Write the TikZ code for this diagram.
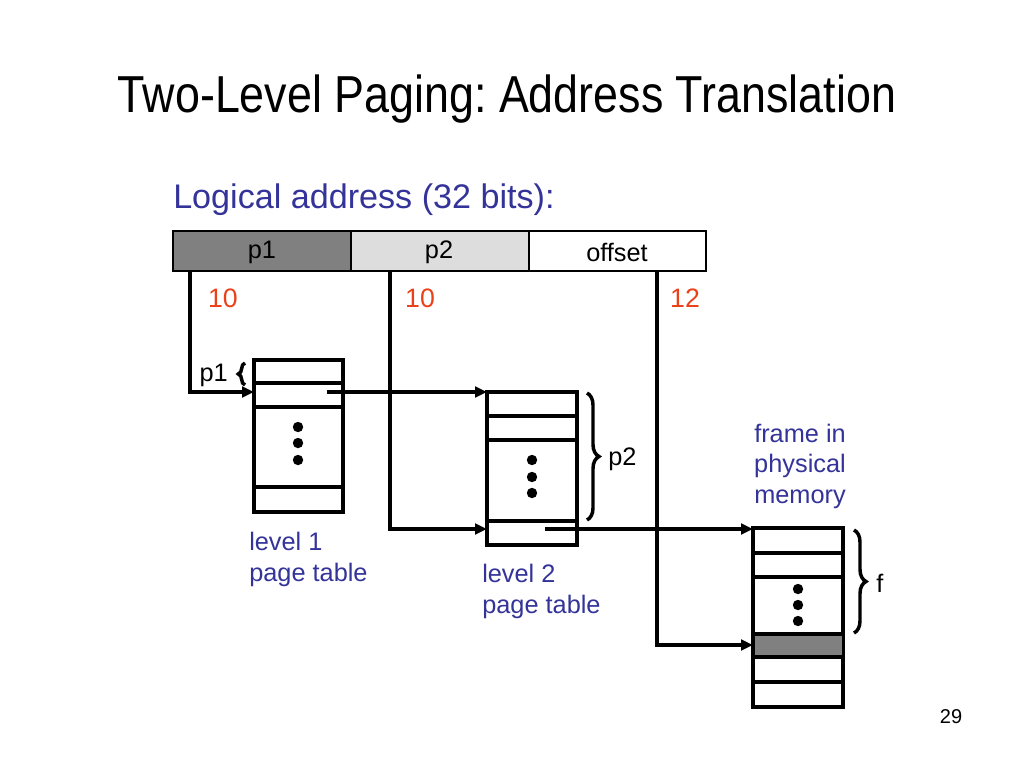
\documentclass[tikz,border=0pt]{standalone}
\usepackage{graphicx}
\usepackage{fontspec}
\setmainfont{Liberation Sans}
\usetikzlibrary{arrows.meta,decorations.pathreplacing}
\definecolor{txtblue}{RGB}{51,51,153}
\definecolor{numred}{RGB}{235,65,25}
\definecolor{dkgray}{RGB}{128,128,128}
\definecolor{ltgray}{RGB}{221,221,221}
\frenchspacing
\begin{document}
\begin{tikzpicture}[x=0.75pt,y=-0.75pt,
  tbl/.style={draw=black,line width=3pt},
  rowline/.style={draw=black,line width=3pt},
  barcell/.style={draw=black,line width=2.2pt},
  conn/.style={line width=2.5pt,-{Triangle[length=9pt,width=8pt]}},
  bracedeco/.style={line width=2.6pt,decorate,decoration={brace,amplitude=#1}},
  dot/.style={fill=black},
  lbl/.style={font=\fontsize{19}{23}\selectfont,inner sep=0pt},
  bluelbl/.style={font=\fontsize{19}{23.25}\selectfont,text=txtblue,inner sep=0pt},
  numlbl/.style={font=\fontsize{20}{24}\selectfont,text=numred,inner sep=0pt}]
\useasboundingbox (0,0) rectangle (1024,768);

% title
\node[anchor=base,inner sep=0pt] (title) at (507,112) {\scalebox{0.862}[1]{\fontsize{39}{46}\selectfont Two-Level Paging: Address Translation}};
\node[font=\fontsize{25.6}{30}\selectfont,text=txtblue,anchor=base west,inner sep=0pt] (logical) at (173,208) {Logical address (32 bits):};

% address bar
\draw[barcell,fill=dkgray] (173,231) rectangle (351,271);
\draw[barcell,fill=ltgray] (351,231) rectangle (529,271);
\draw[barcell,fill=white] (529,231) rectangle (706,271);
\node[lbl] (bp1) at (262,252) {p1};
\node[lbl] (bp2) at (439,252) {p2};
\node[lbl] (boff) at (617,252) {offset};
\node[numlbl] (n1) at (223,298) {10};
\node[numlbl] (n2) at (420,298) {10};
\node[numlbl] (n3) at (685,298) {12};

% level 1 table
\draw[tbl] (254,360) rectangle (343,512);
\draw[rowline] (254,383) -- (343,383);
\draw[rowline] (254,407) -- (343,407);
\draw[rowline] (254,487) -- (343,487);
\foreach \yy in {427,443,460} \fill[dot] (298,\yy) circle[radius=5.2];

% level 2 table
\draw[tbl] (487,392) rectangle (577,545);
\draw[rowline] (487,416) -- (577,416);
\draw[rowline] (487,440) -- (577,440);
\draw[rowline] (487,521) -- (577,521);
\foreach \yy in {460,477,493} \fill[dot] (532,\yy) circle[radius=5.2];

% physical memory
\draw[tbl] (753,528) rectangle (843,707);
\fill[dkgray] (754.5,634) rectangle (841.5,657);
\draw[rowline] (753,553) -- (843,553);
\draw[rowline] (753,577) -- (843,577);
\draw[rowline] (753,634) -- (843,634);
\draw[rowline] (753,657) -- (843,657);
\draw[rowline] (753,682) -- (843,682);
\foreach \yy in {589,605,621} \fill[dot] (798,\yy) circle[radius=5.2];

% connector coordinates
\coordinate (p1out) at (190,271);
\coordinate (l1in) at (254,392);
\coordinate (l1out) at (327,392);
\coordinate (l2in) at (487,392);
\coordinate (p2out) at (390,271);
\coordinate (l2rowin) at (487,529);
\coordinate (l2out) at (545,529);
\coordinate (memtop) at (753,529);
\coordinate (offout) at (657,271);
\coordinate (memin) at (753,645);

\draw[conn] (p1out) |- (l1in);
\draw[conn] (l1out) -- (l2in);
\draw[conn] (p2out) |- (l2rowin);
\draw[conn] (l2out) -- (memtop);
\draw[conn] (offout) |- (memin);

% braces
\draw[bracedeco=5pt] (245,385) -- (245,363);
\node[lbl,anchor=east] (lp1) at (228,375) {p1};
\draw[bracedeco=9pt] (587,393) -- (587,520);
\node[lbl,anchor=west] (lp2) at (608,459) {p2};
\draw[bracedeco=9pt] (854,530) -- (854,633);
\node[lbl,anchor=west] (lf) at (876,583) {f};

% captions
\node[bluelbl,align=left,anchor=west] (cap1) at (249,559) {level 1\\page table};
\node[bluelbl,align=left,anchor=west] (cap2) at (482,591) {level 2\\page table};
\node[bluelbl,align=center,font=\fontsize{19}{22.9}\selectfont] (cap3) at (800,466) {frame in\\physical\\memory};

\node[font=\fontsize{15}{18}\selectfont] (pg) at (951,717) {29};
\end{tikzpicture}
\end{document}
